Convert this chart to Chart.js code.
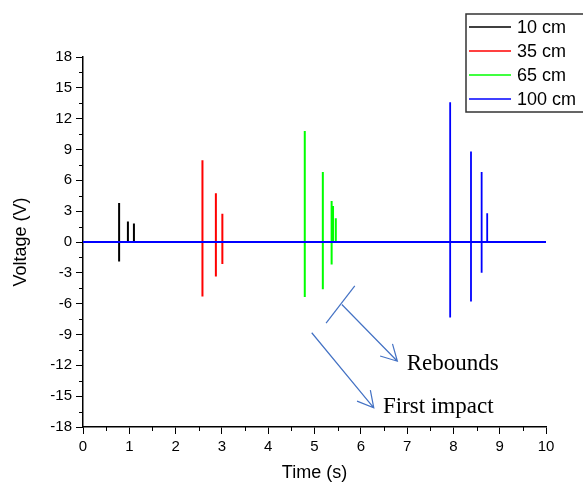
<!DOCTYPE html>
<html lang="en">
<head>
    <meta charset="UTF-8">
    <title>Voltage vs Time</title>
    <script src="https://cdn.jsdelivr.net/npm/chart.js"></script>
    <style>
        body { margin: 0; background: #fff; }
        #wrap { width: 583px; height: 486px; }
    </style>
</head>
<body>
    <div id="wrap"><canvas id="grafico" width="583" height="486"></canvas></div>

    <script>
        // Drop heights (legend labels)
        const seriesNames = ['10 cm', '35 cm', '65 cm', '100 cm'];
        const seriesColors = ['#000000', '#ff0000', '#00ff00', '#0000ff'];

        // Each spike: baseline -> peak -> trough -> baseline at the same time
        const time10 = [0, 0.78, 0.78, 0.78, 0.78, 0.97, 0.97, 0.97, 1.10, 1.10, 1.10, 10];
        const volt10 = [0, 0, 3.8, -1.9, 0, 0, 2.0, 0, 0, 1.8, 0, 0];

        const time35 = [0, 2.58, 2.58, 2.58, 2.58, 2.87, 2.87, 2.87, 2.87, 3.01, 3.01, 3.01, 3.01, 10];
        const volt35 = [0, 0, 7.95, -5.3, 0, 0, 4.75, -3.35, 0, 0, 2.75, -2.15, 0, 0];

        const time65 = [0, 4.79, 4.79, 4.79, 4.79, 5.18, 5.18, 5.18, 5.18, 5.37, 5.37, 5.37, 5.37, 5.40, 5.40, 5.40, 5.46, 5.46, 5.46, 10];
        const volt65 = [0, 0, 10.8, -5.35, 0, 0, 6.8, -4.6, 0, 0, 4.0, -2.2, 0, 0, 3.5, 0, 0, 2.3, 0, 0];

        const time100 = [0, 7.93, 7.93, 7.93, 7.93, 8.38, 8.38, 8.38, 8.38, 8.61, 8.61, 8.61, 8.61, 8.73, 8.73, 8.73, 10];
        const volt100 = [0, 0, 13.6, -7.35, 0, 0, 8.8, -5.8, 0, 0, 6.8, -3.0, 0, 0, 2.8, 0, 0];

        const xTicks = [0, 1, 2, 3, 4, 5, 6, 7, 8, 9, 10];
        const yTicks = [-18, -15, -12, -9, -6, -3, 0, 3, 6, 9, 12, 15, 18];

        // Annotations (data units): [x1, y1, x2, y2, arrowhead?]
        const annLines = [
            [5.25, -7.9, 5.87, -4.26, false],
            [5.59, -6.08, 6.79, -11.6, true],
            [4.94, -8.83, 6.28, -16.13, true]
        ];
        const annTexts = [
            ['Rebounds', 6.99, -12.5],
            ['First impact', 6.48, -16.65]
        ];

        const times = [time10, time35, time65, time100];
        const volts = [volt10, volt35, volt65, volt100];

        const datasets = seriesNames.map((name, i) => ({
            label: name,
            data: times[i].map((t, j) => ({ x: t, y: volts[i][j] })),
            borderColor: seriesColors[i],
            borderWidth: i === 3 ? 1.8 : 2,
            pointRadius: 0,
            tension: 0,
            order: i === 3 ? 0 : 4 - i
        }));

        // Minor ticks, annotations and boxed legend
        const extras = {
            id: 'extras',
            afterDraw(chart) {
                const ctx = chart.ctx;
                const xs = chart.scales.x, ys = chart.scales.y;
                const area = chart.chartArea;

                ctx.save();
                ctx.strokeStyle = '#000';
                ctx.lineWidth = 1;
                ctx.beginPath();
                for (let v = 0.5; v < 10; v += 1) {
                    const px = Math.round(xs.getPixelForValue(v)) + 0.5;
                    ctx.moveTo(px, area.bottom);
                    ctx.lineTo(px, area.bottom + 4);
                }
                for (let v = -16.5; v < 18; v += 3) {
                    const py = Math.round(ys.getPixelForValue(v)) + 0.5;
                    ctx.moveTo(area.left, py);
                    ctx.lineTo(area.left - 4, py);
                }
                ctx.stroke();

                // arrows
                ctx.strokeStyle = '#4472c4';
                ctx.lineWidth = 1.2;
                annLines.forEach(a => {
                    const x1 = xs.getPixelForValue(a[0]), y1 = ys.getPixelForValue(a[1]);
                    const x2 = xs.getPixelForValue(a[2]), y2 = ys.getPixelForValue(a[3]);
                    ctx.beginPath();
                    ctx.moveTo(x1, y1);
                    ctx.lineTo(x2, y2);
                    if (a[4]) {
                        const ang = Math.atan2(y2 - y1, x2 - x1);
                        const len = 18;
                        ctx.moveTo(x2 - len * Math.cos(ang - 0.5), y2 - len * Math.sin(ang - 0.5));
                        ctx.lineTo(x2, y2);
                        ctx.lineTo(x2 - len * Math.cos(ang + 0.5), y2 - len * Math.sin(ang + 0.5));
                    }
                    ctx.stroke();
                });

                ctx.fillStyle = '#000';
                ctx.font = '23px "Liberation Serif", "Times New Roman", serif';
                ctx.textAlign = 'left';
                ctx.textBaseline = 'alphabetic';
                annTexts.forEach(t => {
                    ctx.fillText(t[0], xs.getPixelForValue(t[1]), ys.getPixelForValue(t[2]));
                });

                // legend box
                ctx.strokeStyle = '#333';
                ctx.lineWidth = 1.5;
                ctx.strokeRect(466, 14, 130, 98);
                ctx.font = '18px "Liberation Sans", Arial, sans-serif';
                ctx.textBaseline = 'middle';
                seriesNames.forEach((name, i) => {
                    const y = 27 + i * 24;
                    ctx.strokeStyle = seriesColors[i];
                    ctx.lineWidth = 1.5;
                    ctx.beginPath();
                    ctx.moveTo(469, y);
                    ctx.lineTo(511, y);
                    ctx.stroke();
                    ctx.fillStyle = '#000';
                    ctx.fillText(name, 517, y + 1);
                });
                ctx.restore();
            }
        };

        const tickFont = { family: '"Liberation Sans", Arial, sans-serif', size: 15 };
        const titleFont = { family: '"Liberation Sans", Arial, sans-serif', size: 18 };

        new Chart(document.getElementById('grafico').getContext('2d'), {
            type: 'line',
            data: { datasets: datasets },
            options: {
                responsive: false,
                animation: false,
                layout: { padding: { top: 57, right: 37, left: 0, bottom: 0 } },
                plugins: { legend: { display: false }, tooltip: { enabled: false } },
                scales: {
                    x: {
                        type: 'linear',
                        min: 0, max: 10,
                        afterFit: s => { s.height = 59; },
                        afterBuildTicks: s => { s.ticks = xTicks.map(v => ({ value: v })); },
                        border: { display: true, color: '#000', width: 1.5 },
                        grid: { drawOnChartArea: false, color: '#000', tickLength: 7, tickWidth: 1 },
                        ticks: { color: '#000', font: tickFont, padding: 4, maxRotation: 0 },
                        title: { display: true, text: 'Time (s)', color: '#000', font: titleFont, padding: { top: 0, bottom: 2 } }
                    },
                    y: {
                        type: 'linear',
                        min: -18, max: 18,
                        afterFit: s => { s.width = 83; },
                        afterBuildTicks: s => { s.ticks = yTicks.map(v => ({ value: v })); },
                        border: { display: true, color: '#000', width: 1.5 },
                        grid: { drawOnChartArea: false, color: '#000', tickLength: 7, tickWidth: 1 },
                        ticks: { color: '#000', font: tickFont, padding: 4 },
                        title: { display: true, text: 'Voltage (V)', color: '#000', font: titleFont, padding: { top: 10, bottom: 0 } }
                    }
                }
            },
            plugins: [extras]
        });
    </script>
</body>
</html>
